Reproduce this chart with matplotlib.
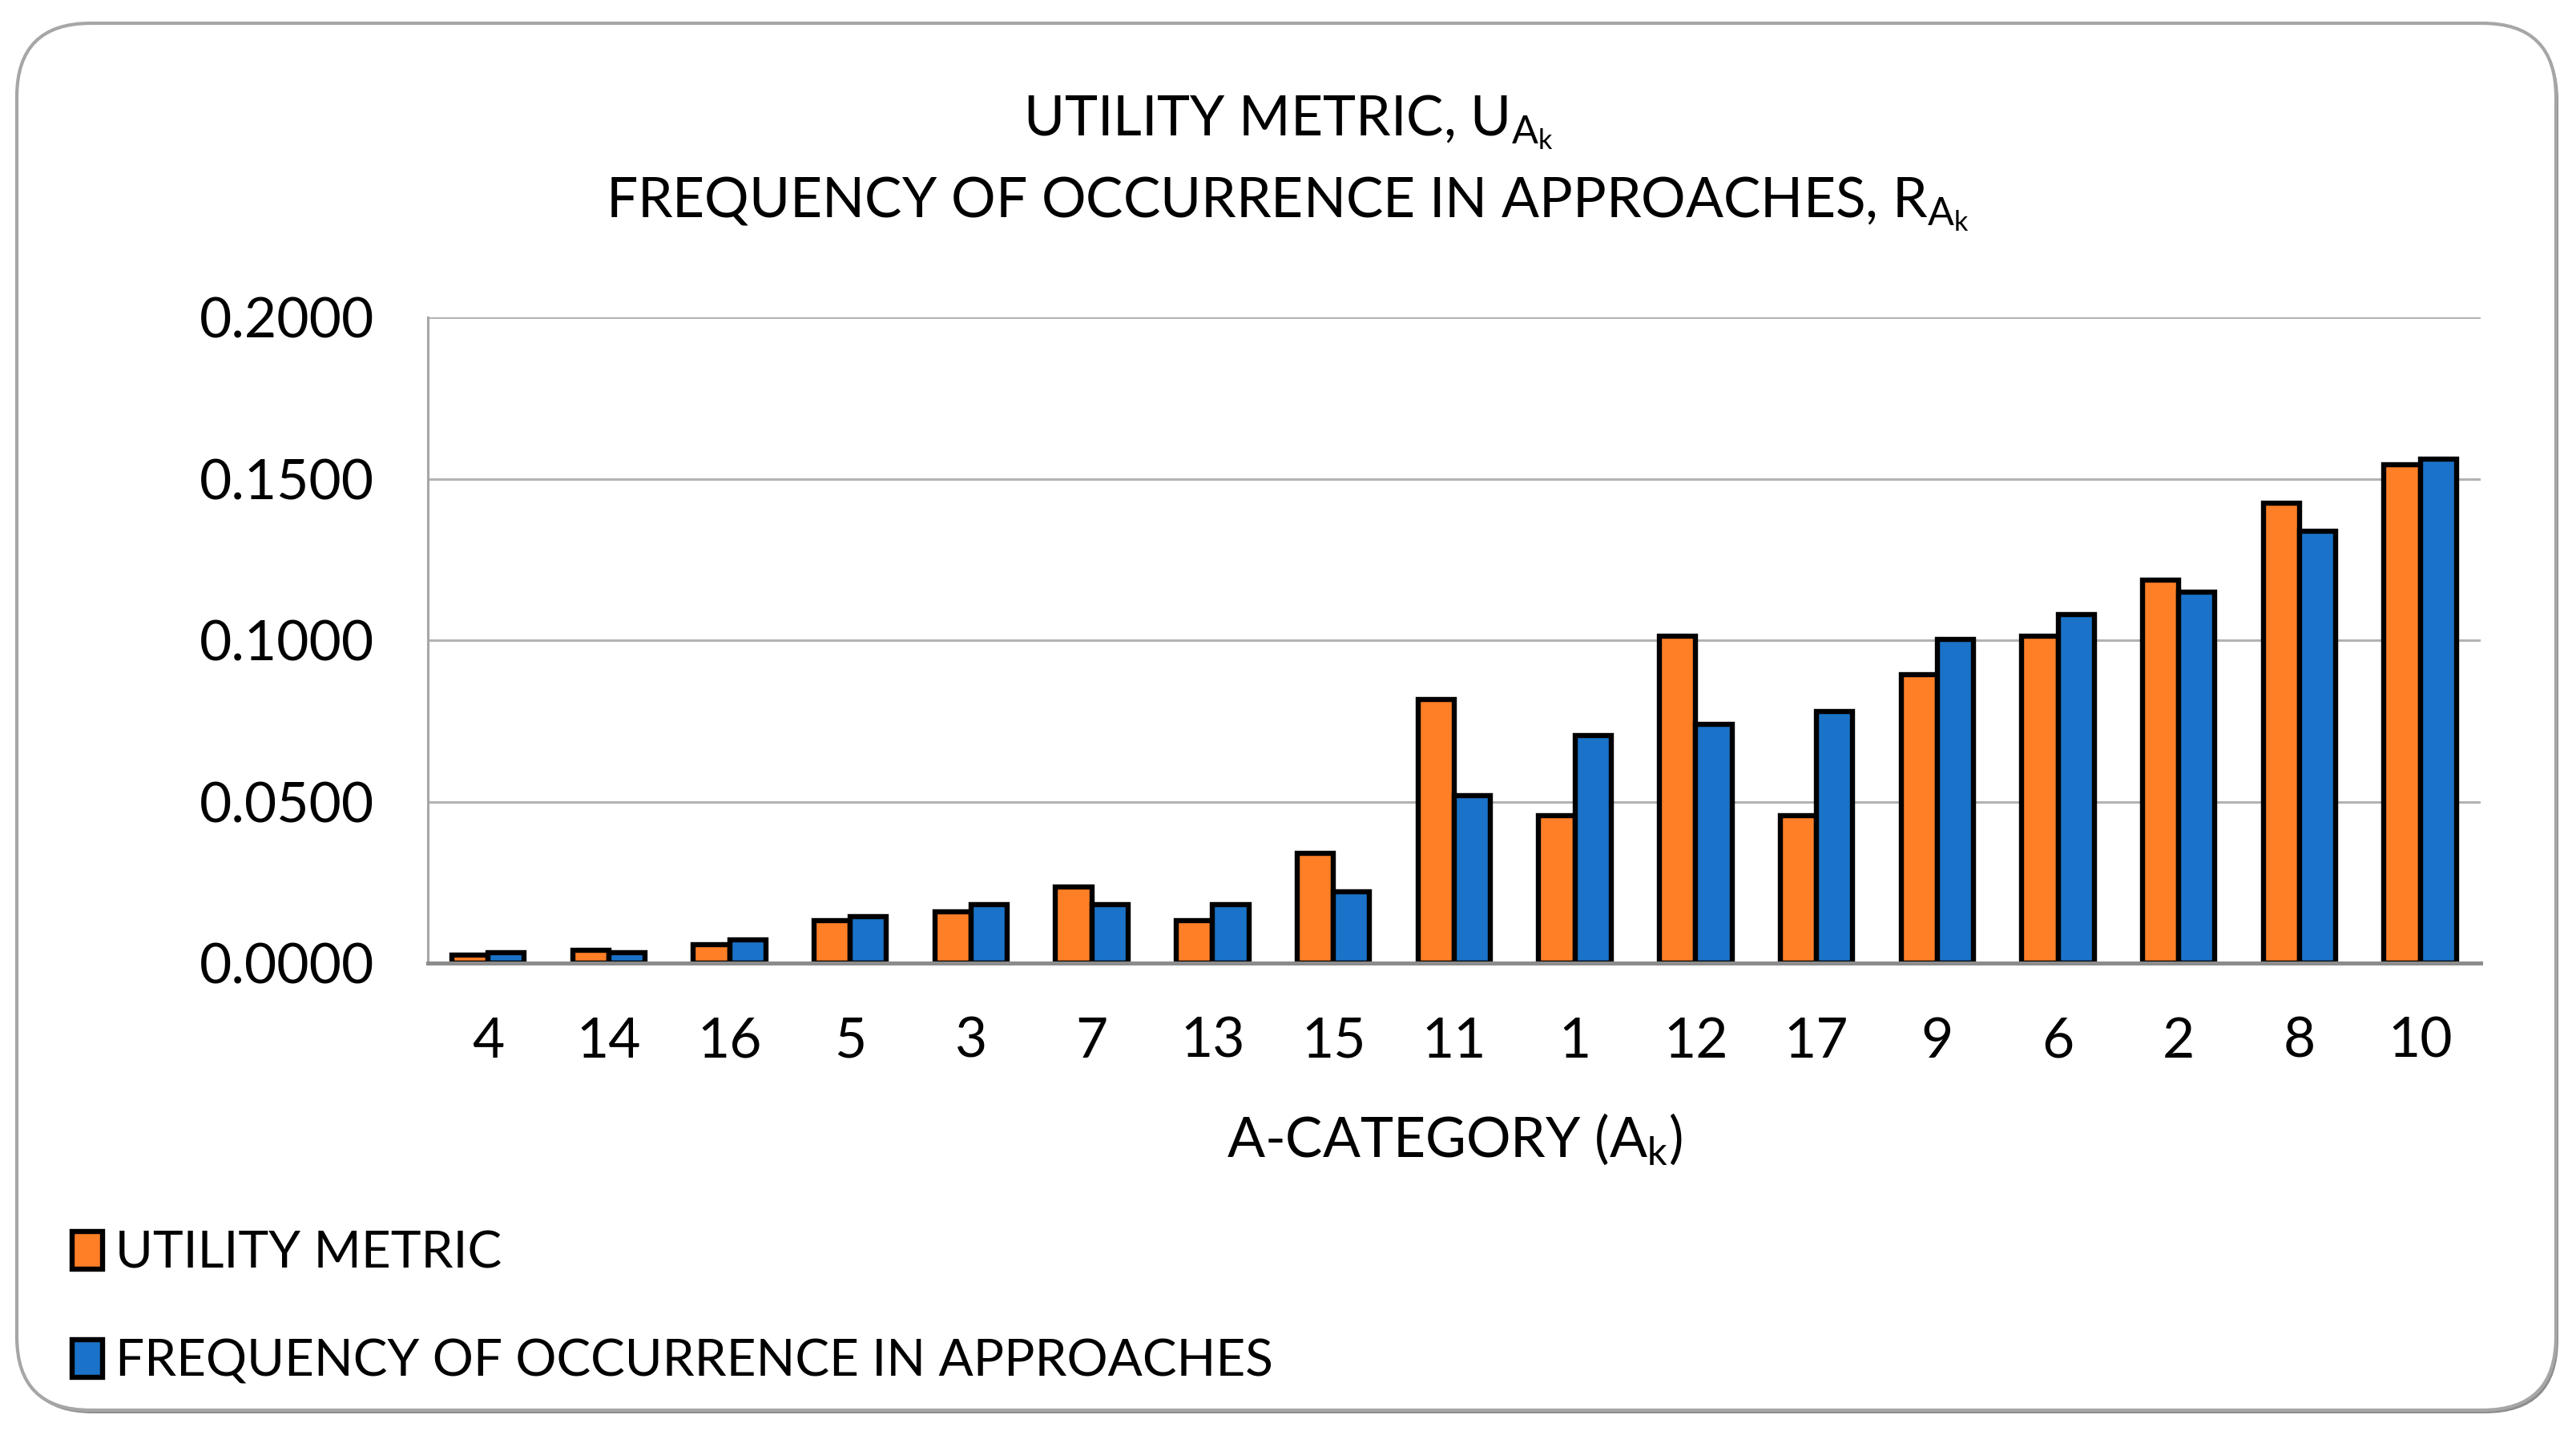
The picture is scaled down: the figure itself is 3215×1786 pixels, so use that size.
import matplotlib
matplotlib.use("Agg")
import matplotlib.pyplot as plt
import numpy as np
from matplotlib.patches import FancyBboxPatch, Patch

categories = ["4", "14", "16", "5", "3", "7", "13", "15", "11", "1", "12", "17", "9", "6", "2", "8", "10"]
utility = [0.0026, 0.0040, 0.0057, 0.0132, 0.0159, 0.0235, 0.0132, 0.0339, 0.0818, 0.0458,
           0.1013, 0.0458, 0.0893, 0.1013, 0.1187, 0.1426, 0.1545]
frequency = [0.0033, 0.0033, 0.0072, 0.0144, 0.0182, 0.0182, 0.0182, 0.0220, 0.0518, 0.0704,
             0.0741, 0.0780, 0.1003, 0.1079, 0.1149, 0.1338, 0.1561]
yticks = [0.0, 0.05, 0.10, 0.15, 0.20]

ORANGE = "#FF7F27"
BLUE = "#1A73C8"

plt.rcParams["font.family"] = ["Lato", "DejaVu Sans"]
plt.rcParams["mathtext.fontset"] = "custom"
plt.rcParams["mathtext.rm"] = "Lato"
plt.rcParams["mathtext.it"] = "Lato"
FS = 25

fig = plt.figure(figsize=(16.075, 8.93), dpi=200)
fig.patch.set_facecolor("white")

# rounded border with shadow
shadow = FancyBboxPatch((0.105 + 0.015, 0.13 - 0.02), 15.845, 8.655,
                        boxstyle="round,pad=0,rounding_size=0.46",
                        transform=fig.dpi_scale_trans, facecolor="#8C8C8C",
                        edgecolor="none", zorder=-3)
border = FancyBboxPatch((0.105, 0.13), 15.845, 8.655,
                        boxstyle="round,pad=0,rounding_size=0.46",
                        transform=fig.dpi_scale_trans, facecolor="white",
                        edgecolor="#A6A6A6", linewidth=1.5, zorder=-2)
fig.add_artist(shadow)
fig.add_artist(border)

ax = fig.add_axes([0.166, 0.327, 0.797, 0.451])
ax.set_facecolor("none")

x = np.arange(len(categories))
w = 0.3
ax.bar(x - w / 2, utility, width=w, color=ORANGE, edgecolor="black", linewidth=2.3, zorder=3)
ax.bar(x + w / 2, frequency, width=w, color=BLUE, edgecolor="black", linewidth=2.3, zorder=3)

ax.set_xlim(-0.5, len(categories) - 0.5)
ax.set_ylim(0, 0.2)
ax.set_yticks(yticks)
ax.set_yticklabels([f"{v:.4f}" for v in yticks])
ax.set_xticks(x)
ax.set_xticklabels(categories)
ax.tick_params(axis="both", length=0, labelsize=FS)
ax.tick_params(axis="x", pad=24)
ax.tick_params(axis="y", pad=24)
ax.grid(axis="y", color="#B3B3B3", linewidth=1.1, zorder=0)
ax.set_axisbelow(True)
for s in ["top", "right"]:
    ax.spines[s].set_visible(False)
ax.spines["left"].set_color("#A6A6A6")
ax.spines["left"].set_linewidth(1.1)
ax.spines["bottom"].set_color("#8C8C8C")
ax.spines["bottom"].set_linewidth(1.8)
ax.spines["bottom"].set_zorder(4)

ax.set_xlabel(r"A-CATEGORY (A$_\mathregular{k}$)", fontsize=FS, labelpad=20)

fig.text(0.5, 0.9145, r"UTILITY METRIC, U$_{\mathregular{A_{k}}}$", ha="center", va="center", fontsize=FS)
fig.text(0.5, 0.8575, r"FREQUENCY OF OCCURRENCE IN APPROACHES, R$_{\mathregular{A_{k}}}$",
         ha="center", va="center", fontsize=FS)

handles = [Patch(facecolor=ORANGE, edgecolor="black", linewidth=2.3),
           Patch(facecolor=BLUE, edgecolor="black", linewidth=2.3)]
fig.legend(handles, ["UTILITY METRIC", "FREQUENCY OF OCCURRENCE IN APPROACHES"],
           loc="lower left", bbox_to_anchor=(0.010, 0.0), frameon=False,
           fontsize=FS - 2, handlelength=0.6, handleheight=0.75, handletextpad=0.25,
           labelspacing=1.2)

fig.savefig("out.png", dpi=200, facecolor="white")
